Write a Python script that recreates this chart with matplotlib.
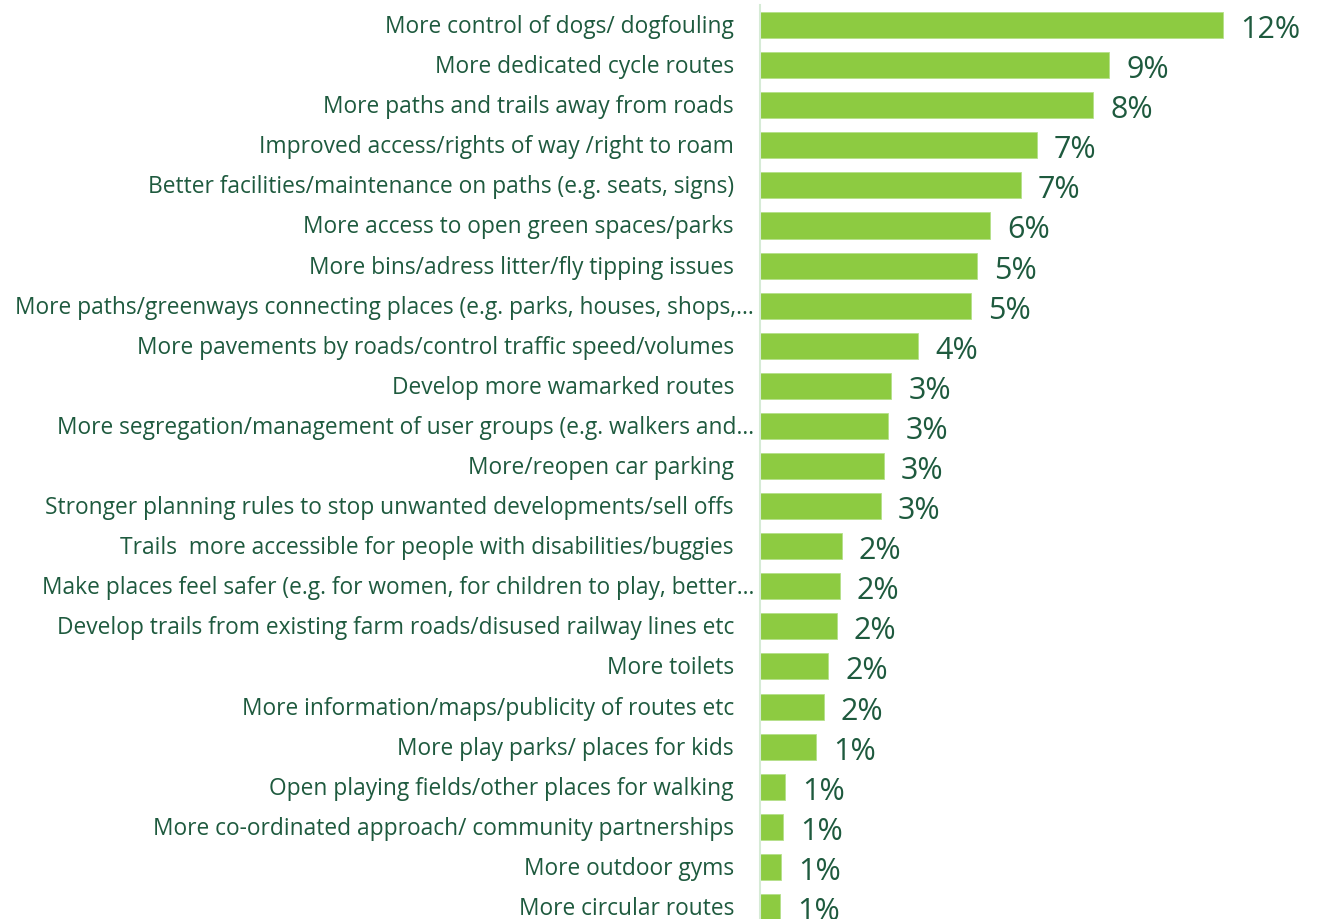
import matplotlib
matplotlib.use("Agg")
import matplotlib.pyplot as plt
import matplotlib.transforms as mtransforms

plt.rcParams['font.family'] = ['Open Sans', 'DejaVu Sans']

# Improvements suggested by respondents, share of mentions (%)
categories = [
    "More control of dogs/ dogfouling",
    "More dedicated cycle routes",
    "More paths and trails away from roads",
    "Improved access/rights of way /right to roam",
    "Better facilities/maintenance on paths (e.g. seats, signs)",
    "More access to open green spaces/parks",
    "More bins/adress litter/fly tipping issues",
    "More paths/greenways connecting places (e.g. parks, houses, shops,…",
    "More pavements by roads/control traffic speed/volumes",
    "Develop more wamarked routes",
    "More segregation/management of user groups (e.g. walkers and…",
    "More/reopen car parking",
    "Stronger planning rules to stop unwanted developments/sell offs",
    "Trails  more accessible for people with disabilities/buggies",
    "Make places feel safer (e.g. for women, for children to play, better…",
    "Develop trails from existing farm roads/disused railway lines etc",
    "More toilets",
    "More information/maps/publicity of routes etc",
    "More play parks/ places for kids",
    "Open playing fields/other places for walking",
    "More co-ordinated approach/ community partnerships",
    "More outdoor gyms",
    "More circular routes",
]
values = [11.58, 8.73, 8.33, 6.92, 6.52, 5.75, 5.42, 5.28, 3.95, 3.28, 3.21,
          3.10, 3.02, 2.04, 2.00, 1.92, 1.71, 1.59, 1.40, 0.63, 0.58, 0.53, 0.51]
truncated = [c.endswith("…") for c in categories]

bar_color = "#8DCB41"
text_color = "#1E5A3E"

fig = plt.figure(figsize=(13.22, 9.19), dpi=100)
ax = fig.add_axes([760 / 1322, 0, 562 / 1322, 914 / 919])

y = list(range(len(categories)))
ax.barh(y, values, height=0.65, color=bar_color, edgecolor="#B5E08A", linewidth=0.6)
ax.set_ylim(22.3, -0.5)
ax.set_xlim(0, 14.05)

for s in ["top", "right", "bottom"]:
    ax.spines[s].set_visible(False)
ax.spines["left"].set_color("#D6EBD6")
ax.spines["left"].set_linewidth(1.5)
ax.set_xticks([])
ax.set_yticks([])

# category labels, right aligned against the axis
for yi, (cat, cut) in enumerate(zip(categories, truncated)):
    pad = -6 if cut else -26
    tr = mtransforms.offset_copy(ax.get_yaxis_transform(), fig=fig, x=pad, y=-2, units="dots")
    ax.text(0, yi, cat, transform=tr, ha="right", va="center",
            fontsize=16.4, color=text_color)

# value labels at the end of each bar
for yi, v in zip(y, values):
    tr = mtransforms.offset_copy(ax.transData, fig=fig, x=17, y=-5, units="dots")
    ax.text(v, yi, f"{v:.0f}%", transform=tr, ha="left", va="center",
            fontsize=22, color=text_color, clip_on=False)

fig.savefig("out.png", dpi=100)
